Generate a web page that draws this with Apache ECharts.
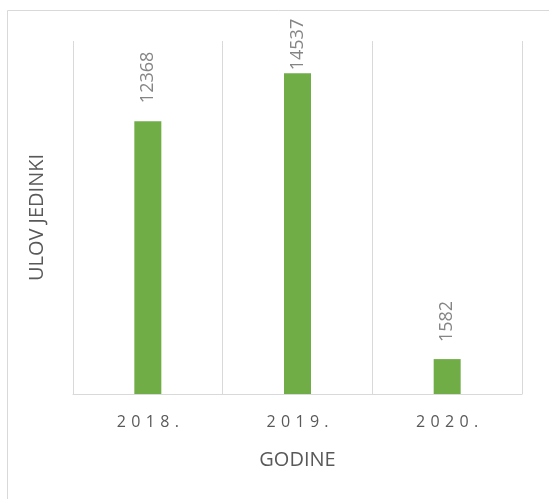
<!DOCTYPE html>
<html>
<head>
    <meta charset="UTF-8">
    <script type="text/javascript" src="https://cdn.jsdelivr.net/npm/echarts@6/dist/echarts.min.js"></script>
    <style>
        html, body { margin: 0; padding: 0; background: #fff; }
    </style>
</head>
<body>
    <div id="barChart" style="width:549px;height:499px"></div>
    <script type="text/javascript">
        var years = ['2018.', '2019.', '2020.'];
        var catch_ = [12368, 14537, 1582];
        var labelGaps = [18, 3, 17];

        var chart = echarts.init(document.getElementById('barChart'));

        var barData = [];
        for (var i = 0; i < catch_.length; i++) {
            barData.push({
                value: catch_[i],
                label: { distance: labelGaps[i] }
            });
        }

        var option = {
            animation: false,
            textStyle: { fontFamily: 'Open Sans' },
            graphic: [{
                type: 'rect',
                shape: { x: 7.5, y: 10.5, width: 560, height: 520 },
                style: { fill: 'none', stroke: '#d9d9d9', lineWidth: 1 }
            }],
            grid: { left: 73, right: 27, top: 41, bottom: 105 },
            xAxis: {
                type: 'category',
                data: years,
                name: 'GODINE',
                nameLocation: 'middle',
                nameGap: 56,
                nameTextStyle: { color: '#595959', fontSize: 20 },
                axisLine: { lineStyle: { color: '#d9d9d9', width: 1 } },
                axisTick: { show: false },
                axisLabel: {
                    color: '#595959',
                    fontSize: 16,
                    margin: 20,
                    // wide letter spacing like the original
                    formatter: function (v) { return v.split('').join('\u2004'); }
                },
                splitLine: { show: true, interval: 0, lineStyle: { color: '#d9d9d9', width: 1 } }
            },
            yAxis: {
                type: 'value',
                min: 0,
                max: 16000,
                name: 'ULOV JEDINKI',
                nameLocation: 'middle',
                nameGap: 26,
                nameRotate: 90,
                nameTextStyle: { color: '#595959', fontSize: 20 },
                axisLine: { show: false },
                axisTick: { show: false },
                axisLabel: { show: false },
                splitLine: { show: false }
            },
            series: [{
                type: 'bar',
                data: barData,
                barWidth: 27,
                itemStyle: { color: '#70ad47' },
                label: {
                    show: true,
                    position: 'top',
                    rotate: 90,
                    align: 'left',
                    verticalAlign: 'middle',
                    color: '#858585',
                    fontSize: 18
                }
            }]
        };
        chart.setOption(option);
    </script>
</body>
</html>
